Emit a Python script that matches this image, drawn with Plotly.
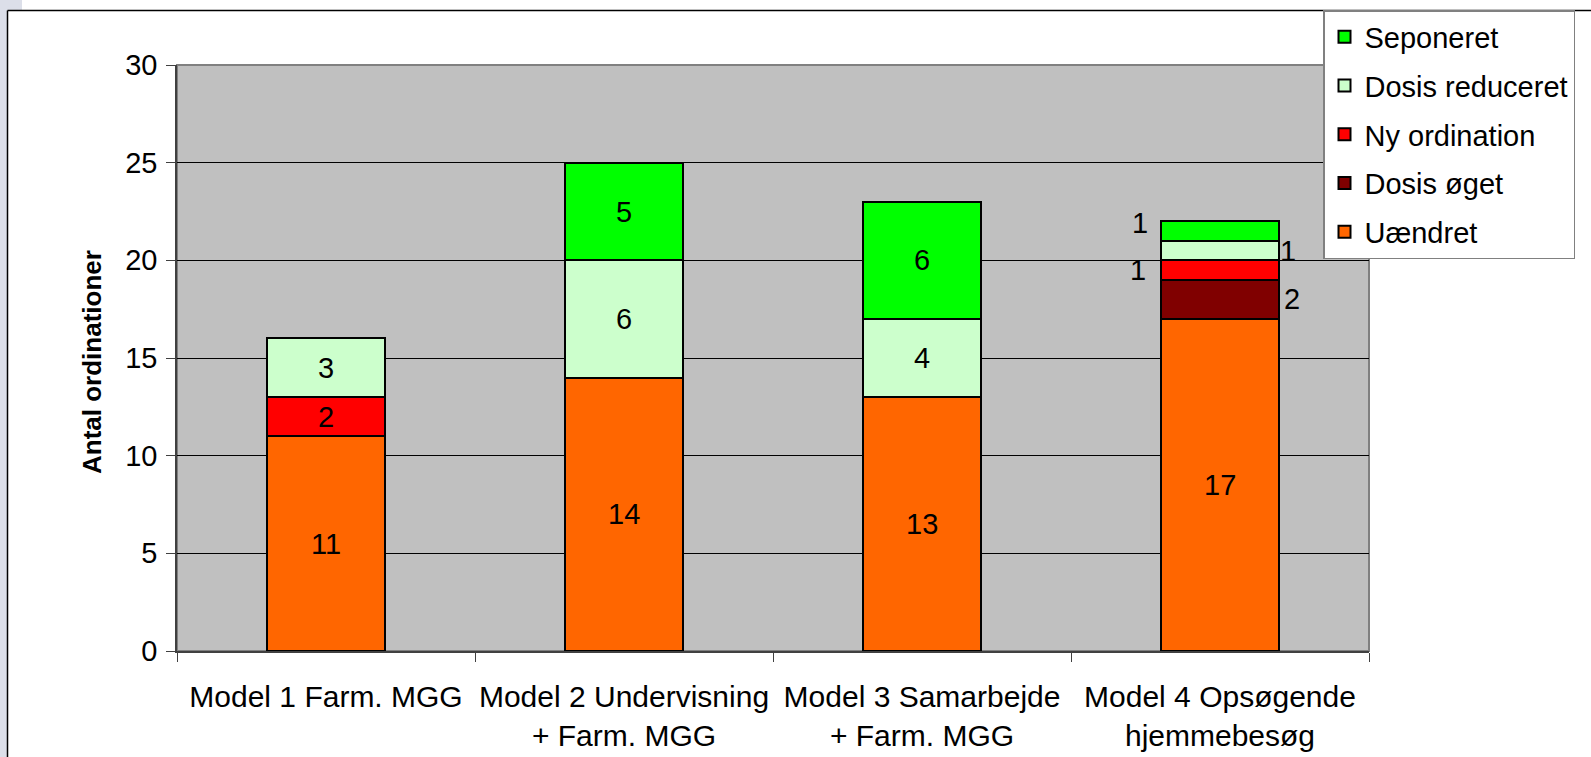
import plotly.graph_objects as go

# Data
categories = [
    "Model 1 Farm. MGG",
    "Model 2 Undervisning<br>+ Farm. MGG",
    "Model 3 Samarbejde<br>+ Farm. MGG",
    "Model 4 Opsøgende<br>hjemmebesøg",
]
series_names = ["Uændret", "Dosis øget", "Ny ordination", "Dosis reduceret", "Seponeret"]
uaendret = [11, 14, 13, 17]
dosis_oget = [0, 0, 0, 2]
ny_ordination = [2, 0, 0, 1]
dosis_reduceret = [3, 6, 4, 1]
seponeret = [0, 5, 6, 1]
y_ticks = [0, 5, 10, 15, 20, 25, 30]

series_values = [uaendret, dosis_oget, ny_ordination, dosis_reduceret, seponeret]
colors = ["#FF6600", "#800000", "#FF0000", "#CCFFCC", "#00FF00"]

FONT = "Liberation Sans, Arial, sans-serif"
W, H = 1591, 757
L, R, T, B = 177, 222, 65, 106
PW, PH = W - L - R, H - T - B


def px_x(px):
    return (px - L) / PW


def px_y(py):
    return (H - B - py) / PH


fig = go.Figure()
n = len(series_names)
for i, (name, vals, col) in enumerate(zip(series_names, series_values, colors)):
    fig.add_trace(go.Bar(
        x=categories,
        y=[v if v else None for v in vals],
        name=name,
        legendgroup=name,
        legendrank=n - i,  # top of the stack listed first
        marker=dict(color=col, line=dict(color="black", width=2)),
        hoverinfo="skip",
    ))

# Value labels: centred in each segment; the thin segments of the last bar
# get their labels alternately beside the bar.
side_shift = {"Dosis øget": 72, "Ny ordination": -82, "Dosis reduceret": 68, "Seponeret": -80}
side_yshift = {"Seponeret": 8}
annotations = []
for ci, cat in enumerate(categories):
    base = 0
    for name, vals in zip(series_names, series_values):
        v = vals[ci]
        if v:
            xs = 0
            ys = 0
            if ci == len(categories) - 1 and name in side_shift:
                xs = side_shift[name]
                ys = side_yshift.get(name, 0)
            annotations.append(dict(
                x=cat, y=base + v / 2, xref="x", yref="y", text=str(v),
                showarrow=False, xshift=xs, yshift=ys,
                font=dict(family=FONT, size=29, color="black"),
            ))
        base += v

# Y axis title
annotations.append(dict(
    x=px_x(92), y=px_y(362), xref="paper", yref="paper",
    xanchor="center", yanchor="middle",
    text="<b>Antal ordinationer</b>", textangle=-90, showarrow=False,
    font=dict(family=FONT, size=26, color="black"),
))

shapes = [
    # light strip along the left page edge
    dict(type="rect", xref="paper", yref="paper", x0=px_x(0), x1=px_x(7),
         y0=px_y(H), y1=px_y(0), fillcolor="#DCDFE9", line=dict(width=0), layer="below"),
    dict(type="rect", xref="paper", yref="paper", x0=px_x(0), x1=px_x(22),
         y0=px_y(10), y1=px_y(0), fillcolor="#DCDFE9", line=dict(width=0), layer="below"),
    # chart frame
    dict(type="line", xref="paper", yref="paper", x0=px_x(7.5), x1=px_x(W + 5),
         y0=px_y(10.5), y1=px_y(10.5), line=dict(color="black", width=1.5)),
    dict(type="line", xref="paper", yref="paper", x0=px_x(7.5), x1=px_x(7.5),
         y0=px_y(10.5), y1=px_y(H + 5), line=dict(color="black", width=1.5)),
    # plot area border
    dict(type="rect", xref="paper", yref="paper", x0=0, x1=1, y0=0, y1=1,
         line=dict(color="#808080", width=2), layer="below"),
]

fig.update_layout(
    width=W, height=H,
    margin=dict(l=L, r=R, t=T, b=B, pad=0, autoexpand=False),
    barmode="stack",
    bargap=0.605,
    paper_bgcolor="white",
    plot_bgcolor="#C0C0C0",
    font=dict(family=FONT, size=29, color="black"),
    showlegend=True,
    legend=dict(
        x=px_x(1323), y=px_y(10), xanchor="left", yanchor="top",
        bgcolor="white", bordercolor="#808080", borderwidth=1.5,
        traceorder="grouped", tracegroupgap=8,
        font=dict(family=FONT, size=29, color="black"),
        itemclick=False, itemdoubleclick=False,
    ),
    annotations=annotations,
    shapes=shapes,
)

fig.update_xaxes(
    type="category",
    showgrid=False,
    showline=True, linecolor="#404040", linewidth=1.5,
    ticks="outside", tickson="boundaries", ticklen=9, tickcolor="#404040", tickwidth=1,
    ticklabelstandoff=18, tickangle=0, automargin=False,
    tickfont=dict(family=FONT, size=30, color="black"),
    fixedrange=True,
)
fig.update_yaxes(
    range=[0, 30],
    tickvals=y_ticks,
    showgrid=True, gridcolor="black", gridwidth=1,
    zeroline=False,
    showline=True, linecolor="#404040", linewidth=1.5,
    ticks="outside", ticklen=9, tickcolor="#404040", tickwidth=1,
    ticklabelstandoff=3, automargin=False,
    tickfont=dict(family=FONT, size=29, color="black"),
    fixedrange=True,
)

fig.write_html("out.html", config={"displayModeBar": False})
